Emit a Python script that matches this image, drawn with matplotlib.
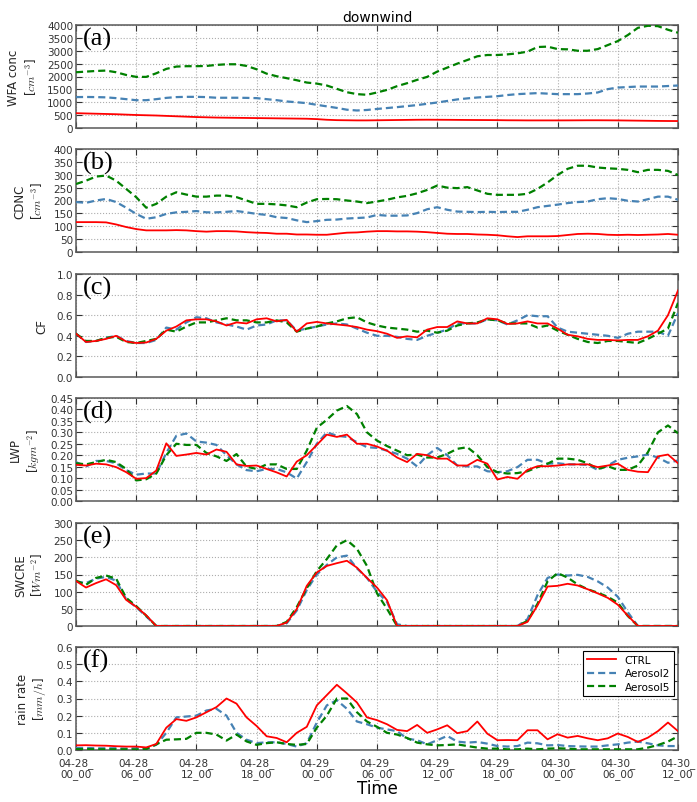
import numpy as np
import matplotlib
matplotlib.use('Agg')
import matplotlib.pyplot as plt
from matplotlib.ticker import FormatStrFormatter

plt.rcParams['mathtext.fontset'] = 'cm'

# hourly output, 04-28 00:00 .. 04-30 12:00
hours = list(range(61))
tick_hours = [0, 6, 12, 18, 24, 30, 36, 42, 48, 54, 60]
tick_labels = ['04-28_\n00_00', '04-28_\n06_00', '04-28_\n12_00', '04-28_\n18_00',
               '04-29_\n00_00', '04-29_\n06_00', '04-29_\n12_00', '04-29_\n18_00',
               '04-30_\n00_00', '04-30_\n06_00', '04-30_\n12_00']

# (a) WFA conc
wfa_ctrl = [575, 565, 555, 545, 535, 520, 505, 495, 485, 470,
            455, 440, 425, 415, 405, 400, 395, 390, 385, 380,
            375, 370, 365, 360, 345, 320, 305, 300, 295, 295,
            300, 305, 310, 315, 320, 322, 320, 318, 315, 312,
            310, 308, 305, 300, 298, 295, 295, 295, 295, 296,
            298, 300, 300, 298, 295, 290, 285, 280, 275, 272, 270]
wfa_a2 = [1200, 1205, 1200, 1190, 1160, 1120, 1080, 1080, 1120, 1170,
          1200, 1210, 1210, 1200, 1175, 1175, 1175, 1170, 1160, 1120,
          1080, 1030, 1000, 965, 900, 840, 780, 710, 680, 700,
          740, 775, 810, 850, 890, 940, 990, 1050, 1110, 1150,
          1185, 1210, 1235, 1280, 1315, 1335, 1355, 1335, 1315, 1315,
          1315, 1340, 1380, 1510, 1570, 1590, 1610, 1610, 1610, 1630, 1650]
wfa_a5 = [2165, 2190, 2215, 2230, 2165, 2060, 1985, 1985, 2125, 2295,
          2385, 2400, 2400, 2410, 2450, 2475, 2475, 2410, 2280, 2110,
          2010, 1935, 1855, 1765, 1725, 1650, 1520, 1390, 1315, 1290,
          1380, 1480, 1625, 1740, 1870, 1985, 2190, 2345, 2500, 2640,
          2785, 2835, 2835, 2860, 2900, 2965, 3145, 3160, 3065, 3055,
          3000, 3000, 3065, 3220, 3375, 3610, 3890, 3970, 3955, 3815, 3700]

# (b) CDNC
cdnc_ctrl = [116, 116, 116, 115, 107, 97, 89, 84, 84, 84,
             85, 84, 81, 79, 81, 81, 80, 77, 75, 74,
             71, 71, 68, 68, 67, 67, 71, 75, 76, 79,
             81, 81, 80, 80, 79, 77, 74, 71, 70, 70,
             68, 67, 65, 61, 58, 61, 61, 61, 62, 66,
             70, 71, 70, 67, 66, 67, 66, 67, 68, 70, 67]
cdnc_a2 = [194, 191, 200, 206, 194, 172, 148, 129, 135, 148,
           154, 156, 159, 154, 154, 156, 159, 154, 148, 144,
           135, 132, 123, 116, 120, 125, 126, 130, 132, 134,
           144, 141, 141, 142, 151, 166, 174, 164, 157, 156,
           155, 156, 155, 156, 156, 164, 174, 179, 184, 190,
           194, 196, 205, 209, 206, 199, 196, 205, 215, 215, 203]
cdnc_a5 = [264, 277, 293, 297, 277, 245, 213, 172, 187, 215,
           232, 223, 215, 215, 219, 219, 213, 200, 187, 187,
           185, 181, 174, 192, 205, 206, 205, 200, 196, 190,
           196, 203, 212, 218, 228, 241, 258, 250, 248, 252,
           239, 226, 222, 222, 222, 226, 245, 270, 299, 323,
           335, 335, 328, 325, 323, 319, 310, 319, 319, 315, 299]

# (c) CF
cf_ctrl = [0.42, 0.34, 0.35, 0.37, 0.40, 0.345, 0.33, 0.335, 0.37, 0.45,
           0.49, 0.55, 0.56, 0.56, 0.54, 0.50, 0.53, 0.52, 0.56, 0.57,
           0.54, 0.555, 0.44, 0.52, 0.535, 0.52, 0.51, 0.50, 0.485, 0.46,
           0.445, 0.42, 0.38, 0.395, 0.385, 0.46, 0.485, 0.485, 0.54, 0.52,
           0.52, 0.57, 0.56, 0.515, 0.52, 0.54, 0.52, 0.52, 0.47, 0.41,
           0.395, 0.37, 0.36, 0.36, 0.355, 0.36, 0.36, 0.395, 0.45, 0.60, 0.84]
cf_a2 = [0.42, 0.34, 0.35, 0.38, 0.40, 0.35, 0.33, 0.33, 0.36, 0.48,
         0.46, 0.53, 0.58, 0.57, 0.53, 0.51, 0.49, 0.46, 0.50, 0.51,
         0.55, 0.55, 0.45, 0.47, 0.49, 0.51, 0.52, 0.51, 0.47, 0.43,
         0.40, 0.40, 0.39, 0.37, 0.36, 0.40, 0.43, 0.46, 0.52, 0.52,
         0.52, 0.56, 0.55, 0.51, 0.55, 0.60, 0.59, 0.59, 0.48, 0.44,
         0.43, 0.42, 0.41, 0.40, 0.38, 0.42, 0.44, 0.44, 0.44, 0.40, 0.62]
cf_a5 = [0.42, 0.35, 0.35, 0.38, 0.39, 0.34, 0.33, 0.35, 0.37, 0.46,
         0.44, 0.49, 0.53, 0.53, 0.55, 0.57, 0.55, 0.55, 0.53, 0.53,
         0.55, 0.53, 0.44, 0.47, 0.49, 0.52, 0.54, 0.57, 0.58, 0.53,
         0.50, 0.48, 0.47, 0.46, 0.44, 0.45, 0.43, 0.45, 0.50, 0.52,
         0.53, 0.56, 0.55, 0.52, 0.52, 0.52, 0.48, 0.50, 0.45, 0.41,
         0.37, 0.34, 0.33, 0.35, 0.35, 0.34, 0.33, 0.37, 0.42, 0.47, 0.72]

# (d) LWP
lwp_ctrl = [0.158, 0.155, 0.163, 0.160, 0.148, 0.126, 0.097, 0.100, 0.133, 0.252,
            0.197, 0.203, 0.210, 0.203, 0.225, 0.215, 0.160, 0.153, 0.155, 0.140,
            0.125, 0.107, 0.172, 0.200, 0.245, 0.290, 0.280, 0.290, 0.250, 0.250,
            0.238, 0.220, 0.190, 0.170, 0.206, 0.200, 0.185, 0.185, 0.155, 0.155,
            0.180, 0.163, 0.094, 0.105, 0.097, 0.136, 0.152, 0.152, 0.155, 0.160,
            0.160, 0.160, 0.148, 0.155, 0.163, 0.136, 0.128, 0.126, 0.195, 0.203, 0.165]
lwp_a2 = [0.170, 0.150, 0.175, 0.175, 0.165, 0.135, 0.115, 0.120, 0.120, 0.210,
          0.285, 0.295, 0.260, 0.255, 0.245, 0.200, 0.160, 0.135, 0.130, 0.140,
          0.140, 0.125, 0.098, 0.170, 0.250, 0.300, 0.285, 0.280, 0.257, 0.235,
          0.232, 0.220, 0.206, 0.185, 0.151, 0.200, 0.232, 0.200, 0.155, 0.151,
          0.151, 0.130, 0.126, 0.130, 0.148, 0.180, 0.180, 0.163, 0.165, 0.160,
          0.160, 0.158, 0.136, 0.155, 0.180, 0.189, 0.195, 0.203, 0.190, 0.167, 0.177]
lwp_a5 = [0.165, 0.160, 0.170, 0.180, 0.170, 0.140, 0.090, 0.095, 0.120, 0.200,
          0.250, 0.245, 0.245, 0.210, 0.195, 0.175, 0.205, 0.150, 0.140, 0.160,
          0.160, 0.140, 0.140, 0.220, 0.320, 0.355, 0.395, 0.415, 0.380, 0.300,
          0.264, 0.240, 0.220, 0.200, 0.203, 0.190, 0.190, 0.206, 0.228, 0.235,
          0.200, 0.148, 0.126, 0.120, 0.122, 0.130, 0.148, 0.163, 0.185, 0.185,
          0.180, 0.165, 0.140, 0.152, 0.136, 0.136, 0.155, 0.213, 0.300, 0.330, 0.296]

# (e) SWCRE
swcre_ctrl = [131, 112, 125, 136, 119, 76, 56, 31, 0, 0,
              0, 0, 0, 0, 0, 0, 0, 0, 0, 0,
              0, 10, 49, 117, 156, 175, 183, 190, 170, 140,
              112, 75, 0, 0, 0, 0, 0, 0, 0, 0,
              0, 0, 0, 0, 0, 12, 60, 115, 117, 123,
              118, 107, 95, 82, 62, 30, 0, 0, 0, 0, 0]
swcre_a2 = [130, 125, 138, 143, 132, 78, 55, 28, 0, 0,
            0, 0, 0, 0, 0, 0, 0, 0, 0, 0,
            0, 8, 45, 105, 150, 178, 200, 205, 168, 140,
            100, 70, 5, 0, 0, 0, 0, 0, 0, 0,
            0, 0, 0, 0, 0, 20, 90, 140, 150, 147,
            149, 143, 130, 112, 85, 40, 0, 0, 0, 0, 0]
swcre_a5 = [132, 120, 140, 147, 138, 82, 58, 30, 0, 0,
            0, 0, 0, 0, 0, 0, 0, 0, 0, 0,
            0, 12, 55, 110, 160, 195, 235, 250, 225, 175,
            95, 50, 0, 0, 0, 0, 0, 0, 0, 0,
            0, 0, 0, 0, 0, 15, 65, 130, 154, 141,
            121, 107, 97, 85, 68, 29, 0, 0, 0, 0, 0]

# (f) rain rate
rain_ctrl = [0.027, 0.028, 0.026, 0.025, 0.022, 0.020, 0.020, 0.015, 0.035, 0.130,
             0.180, 0.170, 0.190, 0.220, 0.250, 0.300, 0.270, 0.190, 0.140, 0.080,
             0.070, 0.045, 0.100, 0.135, 0.260, 0.320, 0.380, 0.330, 0.277, 0.190,
             0.174, 0.150, 0.117, 0.110, 0.146, 0.100, 0.120, 0.144, 0.098, 0.110,
             0.166, 0.095, 0.057, 0.058, 0.057, 0.115, 0.115, 0.062, 0.092, 0.072,
             0.082, 0.068, 0.057, 0.068, 0.096, 0.076, 0.047, 0.072, 0.110, 0.160, 0.110]
rain_a2 = [0.012, 0.012, 0.010, 0.010, 0.010, 0.008, 0.010, 0.010, 0.030, 0.100,
           0.190, 0.195, 0.200, 0.230, 0.240, 0.200, 0.100, 0.060, 0.040, 0.045,
           0.045, 0.035, 0.020, 0.040, 0.160, 0.260, 0.290, 0.240, 0.166, 0.150,
           0.130, 0.120, 0.110, 0.066, 0.057, 0.033, 0.057, 0.082, 0.049, 0.043,
           0.047, 0.037, 0.023, 0.020, 0.023, 0.043, 0.039, 0.027, 0.029, 0.023,
           0.021, 0.020, 0.020, 0.027, 0.033, 0.043, 0.049, 0.039, 0.027, 0.023, 0.023]
rain_a5 = [0.005, 0.005, 0.004, 0.004, 0.004, 0.004, 0.003, 0.005, 0.033, 0.060,
           0.062, 0.065, 0.100, 0.100, 0.090, 0.055, 0.090, 0.050, 0.030, 0.040,
           0.045, 0.035, 0.030, 0.035, 0.130, 0.200, 0.300, 0.300, 0.220, 0.166,
           0.135, 0.100, 0.090, 0.070, 0.043, 0.033, 0.027, 0.029, 0.033, 0.023,
           0.014, 0.008, 0.008, 0.004, 0.004, 0.008, 0.004, 0.008, 0.010, 0.008,
           0.004, 0.004, 0.004, 0.004, 0.004, 0.004, 0.004, 0.014, 0.029, 0.049, 0.080]

panels = [
    ('(a)', 'WFA conc\n[$cm^{-3}$]', wfa_ctrl, wfa_a2, wfa_a5, 4000, 500, '%d'),
    ('(b)', 'CDNC\n[$cm^{-3}$]', cdnc_ctrl, cdnc_a2, cdnc_a5, 400, 50, '%d'),
    ('(c)', 'CF', cf_ctrl, cf_a2, cf_a5, 1.0, 0.2, '%.1f'),
    ('(d)', 'LWP\n[$kgm^{-2}$]', lwp_ctrl, lwp_a2, lwp_a5, 0.45, 0.05, '%.2f'),
    ('(e)', 'SWCRE\n[$Wm^{-2}$]', swcre_ctrl, swcre_a2, swcre_a5, 300, 50, '%d'),
    ('(f)', 'rain rate\n[$mm/h$]', rain_ctrl, rain_a2, rain_a5, 0.6, 0.1, '%.1f'),
]

W, H = 697, 803
fig = plt.figure(figsize=(W / 100, H / 100), dpi=100)
tops = [26, 150, 275, 399, 524, 648]
left, right, ph = 76, 678, 103

for i, (tag, ylab, ctrl, a2, a5, ymax, ystep, fmt) in enumerate(panels):
    ax = fig.add_axes([left / W, 1 - (tops[i] + ph) / H, (right - left) / W, ph / H])
    ax.plot(hours, ctrl, color='red', lw=1.3, label='CTRL', zorder=4)
    ax.plot(hours, a2, color='steelblue', lw=1.6, dashes=(3.2, 1.8), label='Aerosol2', zorder=3)
    ax.plot(hours, a5, color='green', lw=1.6, dashes=(3.2, 1.8), label='Aerosol5', zorder=3)
    ax.set_xlim(0, 60)
    ax.set_ylim(0, ymax)
    ax.set_yticks(np.arange(0, ymax + ystep / 2, ystep))
    ax.yaxis.set_major_formatter(FormatStrFormatter(fmt))
    ax.set_xticks(tick_hours)
    ax.grid(True, color='0.68', linestyle=':', lw=0.8)
    ax.tick_params(direction='in', length=4, width=0.8, labelsize=7.5, pad=2,
                   top=True, right=True, colors='0.2')
    ax.tick_params(axis='x', pad=5)
    for sp in ax.spines.values():
        sp.set_color('0.35')
        sp.set_linewidth(1.1)
    ax.set_ylabel(ylab, fontsize=8.5, labelpad=6, color='0.15')
    ax.text(0.012, 0.985, tag, transform=ax.transAxes, ha='left', va='top',
            fontsize=19, family='Liberation Serif')
    if i == 0:
        ax.set_title('downwind', fontsize=10, pad=3)
    if i == len(panels) - 1:
        ax.set_xticklabels(tick_labels, fontsize=7.5, linespacing=1.0)
        ax.set_xlabel('Time', fontsize=12, labelpad=0)
        leg = ax.legend(loc='upper right', fontsize=7.5, fancybox=False, framealpha=1,
                        edgecolor='k', handlelength=2.8, borderaxespad=0.35,
                        labelspacing=0.35)
        leg.get_frame().set_linewidth(0.8)
    else:
        ax.set_xticklabels([])

fig.savefig('out.png', dpi=100)
